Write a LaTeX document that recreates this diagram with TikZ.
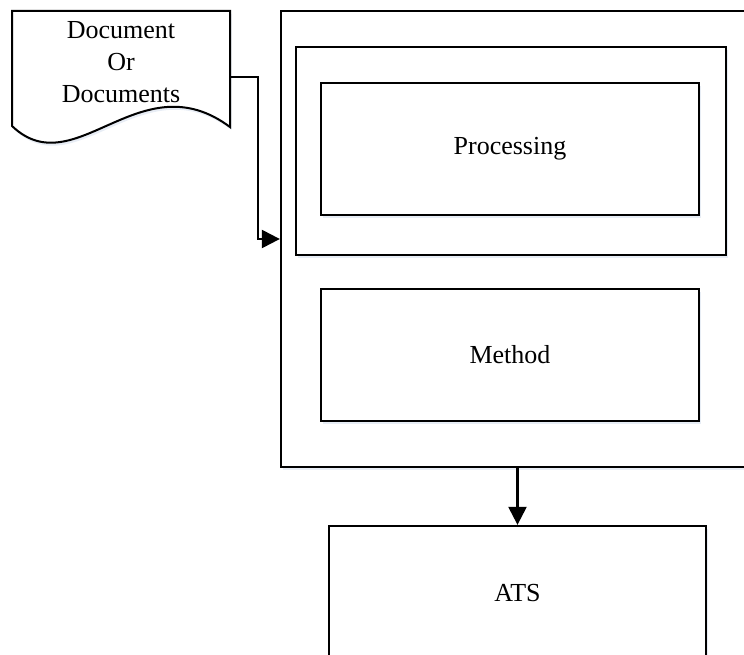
\documentclass[tikz,border=0pt]{standalone}
\usepackage{fontspec}
\setmainfont{Liberation Serif}
\usetikzlibrary{arrows.meta,shadows}
\definecolor{glow}{RGB}{226,233,243}
\tikzset{
  box/.style={draw=black, line width=2.3pt, fill=white, rectangle, inner sep=0pt,
    drop shadow={shadow xshift=1.5pt, shadow yshift=-3pt, fill=glow, opacity=0.8}},
  label/.style={font=\fontsize{26}{32}\selectfont, align=center, inner sep=0pt},
  conn/.style={line width=2.3pt, -{Triangle[length=18pt,width=18pt]}},
  docshape/.style={draw=black, line width=2pt, fill=white, line join=miter}
}
\begin{document}
\begin{tikzpicture}[x=1pt, y=-1pt]
  \useasboundingbox (0,0) rectangle (744,655);
  \clip (0,0) rectangle (744,655);

  % document symbol with wavy lower edge
  \draw[docshape, drop shadow={shadow xshift=1.5pt, shadow yshift=-3pt, fill=glow, opacity=0.8}]
    (12,11) -- (230,11) -- (230,127)
    .. controls (140,60) and (75,186) .. (12,126) -- cycle;
  \node[label] (doc) at (121,62) {Document\\Or\\Documents};
  \coordinate (docR) at (230,77);
  \coordinate (bend) at (258,77);

  % system container and its parts
  \node[box, minimum width=480pt, minimum height=456pt] (outer) at (521,239) {};
  \node[box, minimum width=430pt, minimum height=208pt] (frame) at (511,151) {};
  \node[box, minimum width=378pt, minimum height=132pt, label] (proc) at (510,149) {Processing};
  \node[box, minimum width=378pt, minimum height=132pt, label] (method) at (510,355) {Method};

  % output
  \node[box, minimum width=377pt, minimum height=134pt, label] (ats) at (517.5,593) {ATS};

  % connectors
  \draw[conn] (docR) -- (bend) |- (outer.west);
  \draw[conn] (outer.south -| ats.north) -- (ats.north);
\end{tikzpicture}
\end{document}
